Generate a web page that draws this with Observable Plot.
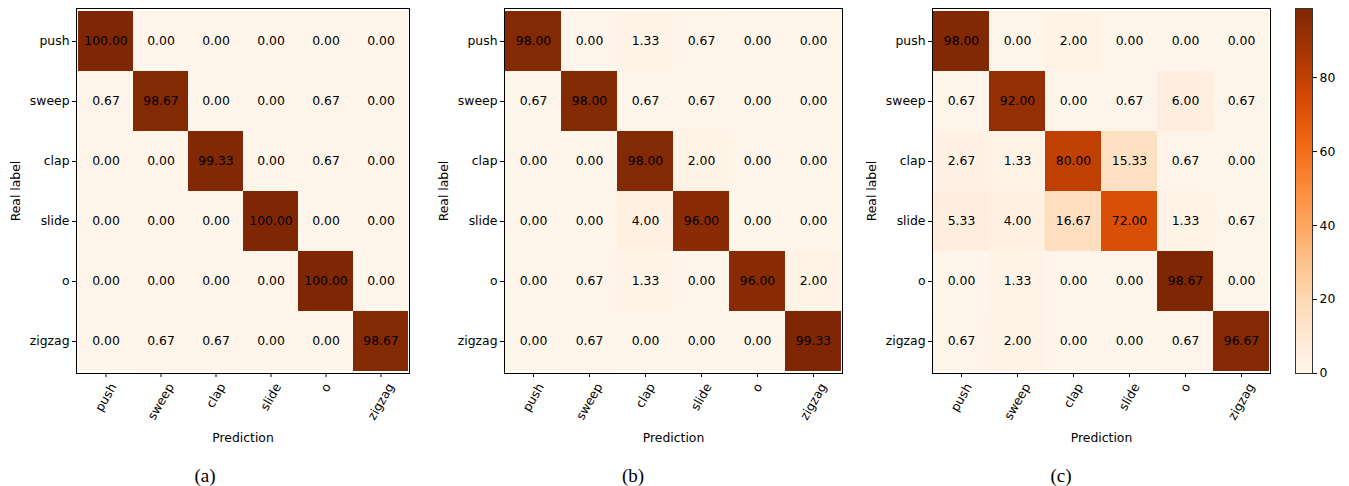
<!DOCTYPE html>
<html><head><meta charset="utf-8">
<script src="https://cdn.jsdelivr.net/npm/d3@7"></script>
<script src="https://cdn.jsdelivr.net/npm/@observablehq/plot@0.6"></script>
<style>
body{margin:0;background:#fff;width:1349px;height:486px;position:relative;overflow:hidden;font-family:"DejaVu Sans";}
.panel{position:absolute;top:0;}
.cap{position:absolute;top:465px;font-family:"Liberation Serif";font-size:19px;transform:translateX(-50%);line-height:22px;}
</style></head><body>
<div id="root"></div>
<script>
const classes = ["push", "sweep", "clap", "slide", "o", "zigzag"];
const panelA = [
  [100.00, 0.00, 0.00, 0.00, 0.00, 0.00],
  [0.67, 98.67, 0.00, 0.00, 0.67, 0.00],
  [0.00, 0.00, 99.33, 0.00, 0.67, 0.00],
  [0.00, 0.00, 0.00, 100.00, 0.00, 0.00],
  [0.00, 0.00, 0.00, 0.00, 100.00, 0.00],
  [0.00, 0.67, 0.67, 0.00, 0.00, 98.67]
];
const panelB = [
  [98.00, 0.00, 1.33, 0.67, 0.00, 0.00],
  [0.67, 98.00, 0.67, 0.67, 0.00, 0.00],
  [0.00, 0.00, 98.00, 2.00, 0.00, 0.00],
  [0.00, 0.00, 4.00, 96.00, 0.00, 0.00],
  [0.00, 0.67, 1.33, 0.00, 96.00, 2.00],
  [0.00, 0.67, 0.00, 0.00, 0.00, 99.33]
];
const panelC = [
  [98.00, 0.00, 2.00, 0.00, 0.00, 0.00],
  [0.67, 92.00, 0.00, 0.67, 6.00, 0.67],
  [2.67, 1.33, 80.00, 15.33, 0.67, 0.00],
  [5.33, 4.00, 16.67, 72.00, 1.33, 0.67],
  [0.00, 1.33, 0.00, 0.00, 98.67, 0.00],
  [0.67, 2.00, 0.00, 0.00, 0.67, 96.67]
];
const captions = ["(a)", "(b)", "(c)"];
const colorbarTicks = [0, 20, 40, 60, 80];
const yTitle = "Real label";
const xTitle = "Prediction";

const root = document.getElementById("root");
const FS = 12.4;
const ctx = document.createElement("canvas").getContext("2d");
ctx.font = `${FS}px "DejaVu Sans"`;
const H = 450, MT = 8, FH = 365, ML = 76;

function toCells(m) {
  return m.flatMap((row, i) => row.map((v, j) => ({real: classes[i], pred: classes[j], value: v})));
}

function panel(matrix, frameLeft, frameWidth) {
  const data = toCells(matrix);
  const max = d3.max(data, d => d.value);
  const xLabels = classes.map(c => {
    const w = ctx.measureText(c).width;
    const h = w * Math.sin(Math.PI / 3) + 14 * Math.cos(Math.PI / 3);
    return Plot.text([c], {x: d => d, text: d => d, frameAnchor: "bottom", dy: 4 + 3.5 + h / 2,
      rotate: -60, textAnchor: "middle", lineAnchor: "middle", fontSize: FS, fill: "black"});
  });
  const svg = Plot.plot({
    width: ML + frameWidth + 10, height: H,
    marginLeft: ML, marginRight: 10, marginTop: MT, marginBottom: H - MT - FH,
    style: {fontFamily: "DejaVu Sans", fontSize: FS + "px", color: "black", background: "transparent"},
    x: {domain: classes, padding: 0},
    y: {domain: classes, padding: 0},
    color: {type: "linear", scheme: "oranges", domain: [0, max]},
    marks: [
      Plot.cell(data, {x: "pred", y: "real", fill: "value", inset: 0}),
      Plot.text(data, {x: "pred", y: "real", text: d => d.value.toFixed(2), fill: "black", fontSize: FS}),
      Plot.frame({stroke: "black", strokeWidth: 1}),
      Plot.axisY({tickSize: 4, tickPadding: 3, fontSize: FS,
        label: yTitle, labelAnchor: "center", labelOffset: 65, labelArrow: "none"}),
      Plot.axisX({tickSize: 4, tickFormat: () => "", label: null}),
      ...xLabels,
      Plot.text([xTitle], {text: d => d, frameAnchor: "bottom", dy: 65,
        textAnchor: "middle", lineAnchor: "middle", fontSize: FS, fill: "black"})
    ]
  });
  svg.classList.add("panel");
  svg.style.left = (frameLeft - ML) + "px";
  root.appendChild(svg);
  return max;
}

panel(panelA, 76, 333);
panel(panelB, 504, 338);
const cmax = panel(panelC, 932, 338);

// colorbar
const step = 0.25;
const steps = d3.range(0, cmax, step);
const cb = Plot.plot({
  width: 2 + 17 + 40, height: H,
  marginLeft: 2, marginRight: 40, marginTop: MT, marginBottom: H - MT - FH,
  style: {fontFamily: "DejaVu Sans", fontSize: FS + "px", color: "black", background: "transparent"},
  y: {domain: [0, cmax]},
  color: {type: "linear", scheme: "oranges", domain: [0, cmax]},
  marks: [
    Plot.rect(steps, {y1: d => d, y2: d => Math.min(d + step * 2, cmax), fill: d => d + step / 2,
      shapeRendering: "crispEdges"}),
    Plot.frame({stroke: "#333", strokeWidth: 1}),
    Plot.axisY({anchor: "right", ticks: colorbarTicks, tickSize: 4, tickPadding: 3, label: null, fontSize: FS})
  ]
});
cb.classList.add("panel");
cb.style.left = (1295 - 2) + "px";
root.appendChild(cb);

const capX = [205, 633, 1061];
captions.forEach((c, i) => {
  const d = document.createElement("div");
  d.className = "cap";
  d.style.left = capX[i] + "px";
  d.textContent = c;
  root.appendChild(d);
});
</script>
</body></html>
